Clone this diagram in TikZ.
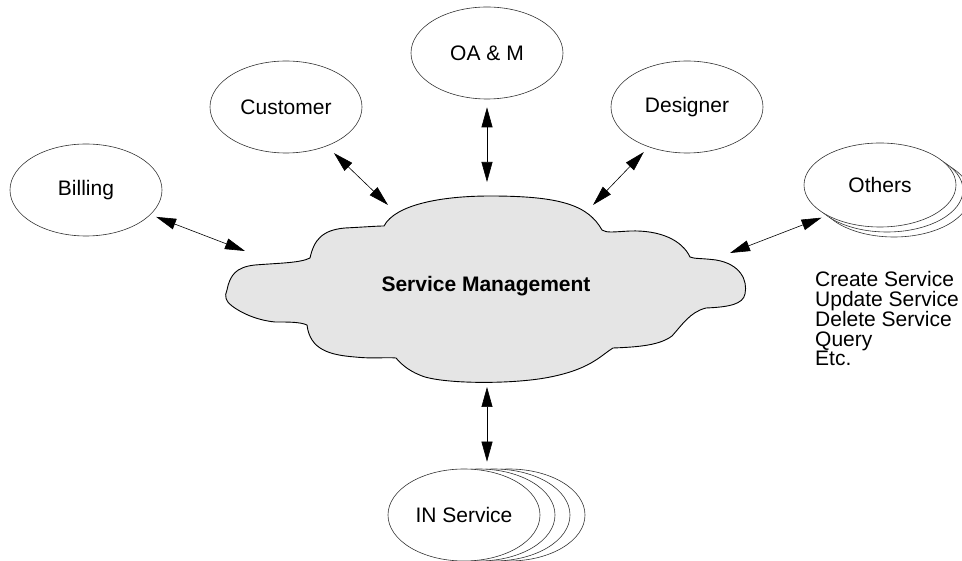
\documentclass[tikz,border=0pt]{standalone}
\usepackage{fontspec}
\setmainfont{Liberation Sans}
\usetikzlibrary{arrows.meta,shapes.geometric}
\begin{document}
\begin{tikzpicture}[x=1pt,y=-1pt,
  every node/.style={font=\fontsize{21pt}{19.5pt}\selectfont},
  actor/.style={ellipse,draw=black!80,line width=0.6pt,fill=white,minimum width=152pt,minimum height=92pt,inner sep=0pt},
  cloudsty/.style={draw=black,line width=0.9pt,fill=black!10},
  link/.style={line width=0.6pt,{Triangle[length=20pt,width=11pt]}-{Triangle[length=20pt,width=11pt]}}]
\useasboundingbox (0,0) rectangle (962,561);
% cloud
\draw[cloudsty] (227,290)
 .. controls (230,275) and (236,267) .. (255,265)
 .. controls (280,263) and (300,263) .. (310,258)
 .. controls (314,240) and (322,230) .. (345,228)
 .. controls (365,227) and (377,226) .. (384,226)
 .. controls (395,205) and (440,196) .. (490,196)
 .. controls (560,196) and (588,205) .. (602,230)
 .. controls (607,233) and (612,232) .. (630,231)
 .. controls (660,230) and (682,240) .. (690,257)
 .. controls (695,259) and (700,258) .. (716,260)
 .. controls (740,264) and (748,280) .. (745,294)
 .. controls (743,304) and (730,307) .. (706,308)
 .. controls (690,312) and (682,325) .. (672,336)
 .. controls (660,345) and (640,347) .. (613,348)
 .. controls (600,356) and (590,370) .. (545,378)
 .. controls (510,384) and (450,384) .. (425,377)
 .. controls (410,372) and (402,365) .. (396,358)
 .. controls (385,357) and (375,359) .. (355,357)
 .. controls (330,355) and (310,350) .. (307,325)
 .. controls (300,322) and (290,322) .. (275,322)
 .. controls (255,320) and (240,312) .. (232,306)
 .. controls (226,302) and (224,296) .. (227,290) -- cycle;
\node[font=\fontsize{21pt}{19.5pt}\selectfont\bfseries] (sm) at (486,286) {Service Management};
% cloud attachment points
\coordinate (cB) at (245,251);
\coordinate (cC) at (388,205);
\coordinate (cO) at (487,182);
\coordinate (cD) at (593,205);
\coordinate (cR) at (730,253);
\coordinate (cI) at (487,387);
% actors
\node[actor] (billing) at (86,190) {Billing};
\node[actor] (customer) at (286,107) {Customer};
\node[actor] (oam) at (487,53) {OA \& M};
\node[actor] (designer) at (687,107) {Designer};
\node[actor,minimum height=84pt] (others3) at (894,195) {};
\node[actor,minimum height=84pt] (others2) at (887,190) {};
\node[actor,minimum height=84pt] (others) at (880,185) {Others};
\node[actor] (ins3) at (509,515) {};
\node[actor] (ins2) at (494,515) {};
\node[actor] (ins1) at (479,515) {};
\node[actor] (inservice) at (464,515) {IN Service};
\node[anchor=base west,align=left,inner sep=0pt] (ops) at (815,366)
  {Create Service\\Update Service\\Delete Service\\Query\\Etc.};
% connectors
\draw[link,shorten <=6pt] (billing) -- (cB);
\draw[link,shorten <=10pt] (customer) -- (cC);
\draw[link,shorten <=8pt] (oam) -- (cO);
\draw[link,shorten <=7pt] (designer) -- (cD);
\draw[link,shorten <=6pt] (others.210) -- (cR);
\draw[link,shorten <=7pt] (cI |- inservice.north) -- (cI);
\end{tikzpicture}
\end{document}
